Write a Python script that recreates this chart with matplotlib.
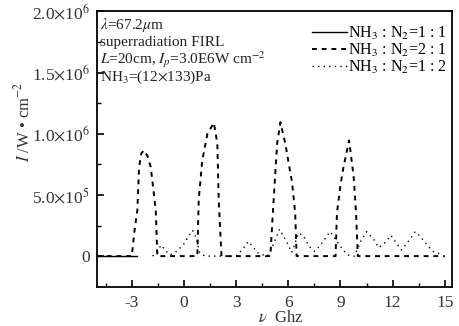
import matplotlib
matplotlib.use("Agg")
import matplotlib.pyplot as plt
from matplotlib.ticker import FixedLocator, FixedFormatter

plt.rcParams['font.family'] = ['Liberation Serif', 'DejaVu Serif']
plt.rcParams['mathtext.fontset'] = 'stix'

# NH3 : N2 = 1 : 1  (solid)
x_11 = [-5.0, -2.7]
y_11 = [0.0, 0.0]

# NH3 : N2 = 2 : 1  (dashed), units of 1e6 W/cm^2
x_21 = [-5.0, -3.0, -2.85, -2.68, -2.58, -2.45, -2.3, -2.1, -1.91, -1.62, -1.53,
        0.77, 0.85, 1.05, 1.35, 1.72, 1.92, 2.0, 2.16,
        4.97, 5.1, 5.22, 5.36, 5.55, 5.83, 6.22, 6.4, 6.48,
        8.72, 8.8, 9.0, 9.18, 9.5, 9.76, 9.9, 10.0, 15.0]
y_21 = [0.0, 0.0, 0.2, 0.375, 0.73, 0.84, 0.865, 0.82, 0.73, 0.375, 0.0,
        0.0, 0.46, 0.78, 1.0, 1.09, 0.92, 0.46, 0.0,
        0.0, 0.32, 0.6, 0.92, 1.095, 0.92, 0.6, 0.35, 0.0,
        0.0, 0.35, 0.58, 0.73, 0.946, 0.65, 0.35, 0.0, 0.0]

# NH3 : N2 = 1 : 2  (dotted)
x_12 = [-1.8, -1.5, -1.3, -1.1, -0.8, -0.4, 0.0, 0.3, 0.5, 0.7, 0.9, 1.2, 2.0, 3.0,
        3.4, 3.7, 4.0, 4.3, 4.8, 5.1, 5.5, 5.9, 6.2, 6.6, 6.9, 7.2, 7.5, 7.8, 8.1,
        8.4, 8.7, 9.1, 9.4, 9.8, 10.2, 10.5, 10.9, 11.2, 11.5, 11.9, 12.2, 12.5,
        12.8, 13.3, 13.6, 14.0, 14.3, 14.9]
y_12 = [0.0, 0.05, 0.09, 0.05, 0.01, 0.04, 0.10, 0.17, 0.21, 0.15, 0.03, 0.0, 0.0, 0.0,
        0.06, 0.12, 0.07, 0.02, 0.0, 0.08, 0.22, 0.12, 0.03, 0.19, 0.16, 0.08, 0.04, 0.08, 0.14,
        0.20, 0.14, 0.06, 0.01, 0.0, 0.13, 0.20, 0.14, 0.07, 0.10, 0.17, 0.11, 0.05,
        0.10, 0.20, 0.16, 0.09, 0.04, 0.01]

legend_labels = [r"NH$_3$ : N$_2$=1 : 1", r"NH$_3$ : N$_2$=2 : 1", r"NH$_3$ : N$_2$=1 : 2"]
yticks = [0, 0.5, 1.0, 1.5, 2.0]
ytick_labels = ["0", r"5.0$\times$10$^{5}$", r"1.0$\times$10$^{6}$",
                r"1.5$\times$10$^{6}$", r"2.0$\times$10$^{6}$"]
xticks = [-3, 0, 3, 6, 9, 12, 15]
xtick_labels = ["-3", "0", "3", "6", "9", "12", "15"]
info_lines = [r"$\lambda$=67.2$\mu$m", "superradiation FIRL",
              r"$L$=20cm, $I_p$=3.0E6W cm$^{-2}$", r"NH$_3$=(12$\times$133)Pa"]

W, H = 460, 326
fig = plt.figure(figsize=(W/100, H/100), dpi=100)
ax = fig.add_axes([97/W, 1-286.7/H, (451.7-97)/W, (286.7-11.5)/H])

ax.plot(x_11, y_11, color='black', lw=1.0, ls='-', label=legend_labels[0])
ax.plot(x_21, y_21, color='black', lw=1.4, ls=(0, (2.5, 2.5)), label=legend_labels[1])
ax.plot(x_12, y_12, color='black', lw=1.0, ls=(0, (1, 3)), label=legend_labels[2])

ax.set_xlim(-5, 15.4)
ax.set_ylim(-0.25, 2.0)
ax.xaxis.set_major_locator(FixedLocator(xticks))
ax.xaxis.set_major_formatter(FixedFormatter(xtick_labels))
ax.xaxis.set_minor_locator(FixedLocator([-4.5, -1.5, 1.5, 4.5, 7.5, 10.5, 13.5]))
ax.yaxis.set_major_locator(FixedLocator(yticks))
ax.yaxis.set_major_formatter(FixedFormatter(ytick_labels))
ax.yaxis.set_minor_locator(FixedLocator([0.25, 0.75, 1.25, 1.75]))
ax.tick_params(which='both', direction='in', top=False, right=False, labelsize=12.5,
               labelcolor='#333333')
ax.tick_params(axis='x', pad=6)
ax.tick_params(axis='y', pad=5)
ax.tick_params(which='major', length=5, width=1.2)
ax.tick_params(which='minor', length=3, width=1.0)
for s in ax.spines.values():
    s.set_linewidth(1.3)

ax.set_xlabel(r"$\nu$  Ghz", fontsize=12, color='#333333')
ax.xaxis.set_label_coords((281-97)/(451.7-97), -(318-286.7)/(286.7-11.5), transform=ax.transAxes)
ax.xaxis.label.set_va('center')
ax.set_ylabel(r"$I$ /W • cm$^{-2}$", fontsize=12, color='#333333')
ax.yaxis.set_label_coords(-(97-23)/(451.7-97), (286.7-122)/(286.7-11.5), transform=ax.transAxes)
ax.yaxis.label.set_va('center')

baselines = [28.5, 46, 63.5, 81]
for t, yb in zip(info_lines, baselines):
    fig.text(100/W, 1-yb/H, t, fontsize=11, va='baseline', ha='left', color='#222222')

leg = ax.legend(loc='upper right', frameon=False, fontsize=11.5, handlelength=2.2,
                handletextpad=0.1, labelspacing=0.0, borderaxespad=0.0,
                bbox_to_anchor=(1.005, 0.975))

fig.savefig("out.png", dpi=100)
